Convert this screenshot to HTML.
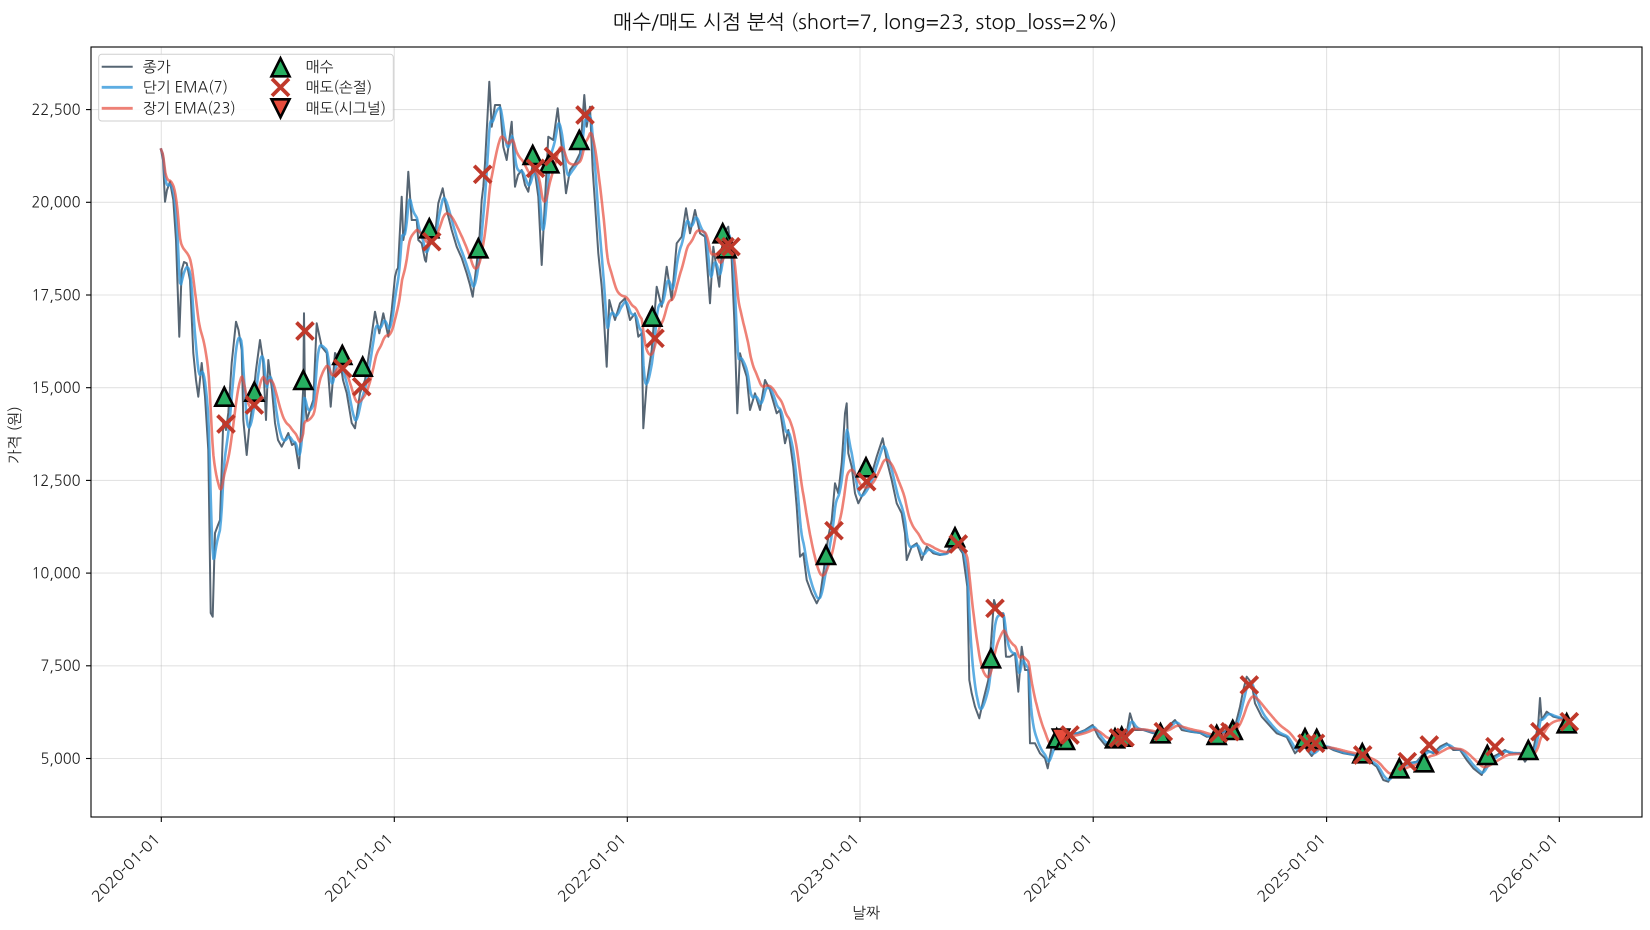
<!DOCTYPE html>
<html><head><meta charset="utf-8">
<style>
html,body{margin:0;padding:0;background:#fff;}
svg{display:block;font-family:"NanumGothic","Noto Sans CJK KR","Liberation Sans",sans-serif;}
</style></head>
<body>
<svg id="chart" width="1650" height="930" viewBox="0 0 1650 930" xmlns="http://www.w3.org/2000/svg">
<defs>
<clipPath id="pa"><rect x="91" y="47" width="1551" height="770"/></clipPath>
<path id="tri" d="M0,-9 L9,9 L-9,9 Z" fill="#27ae60" stroke="#000" stroke-width="2.6" stroke-linejoin="miter"/>
<path id="xm" d="M-8.5,-8.5 L8.5,8.5 M-8.5,8.5 L8.5,-8.5" stroke="#c0392b" stroke-width="3.8" fill="none"/>
</defs>
<rect width="1650" height="930" fill="#fff"/>
<text x="865" y="29" text-anchor="middle" font-size="20" fill="#111" textLength="504" lengthAdjust="spacingAndGlyphs">매수/매도 시점 분석 (short=7, long=23, stop_loss=2%)</text>

<g stroke="#b0b0b0" stroke-opacity="0.35" stroke-width="1.1">
<line x1="91" x2="1642" y1="109.6" y2="109.6"/>
<line x1="91" x2="1642" y1="202.3" y2="202.3"/>
<line x1="91" x2="1642" y1="295" y2="295"/>
<line x1="91" x2="1642" y1="387.7" y2="387.7"/>
<line x1="91" x2="1642" y1="480.4" y2="480.4"/>
<line x1="91" x2="1642" y1="573.1" y2="573.1"/>
<line x1="91" x2="1642" y1="665.8" y2="665.8"/>
<line x1="91" x2="1642" y1="758.5" y2="758.5"/>
<line y1="47" y2="817" x1="161.3" x2="161.3"/>
<line y1="47" y2="817" x1="394.3" x2="394.3"/>
<line y1="47" y2="817" x1="627.3" x2="627.3"/>
<line y1="47" y2="817" x1="860" x2="860"/>
<line y1="47" y2="817" x1="1093.2" x2="1093.2"/>
<line y1="47" y2="817" x1="1326.6" x2="1326.6"/>
<line y1="47" y2="817" x1="1559.3" x2="1559.3"/>
</g>

<g clip-path="url(#pa)" fill="none" stroke-linejoin="round">
<polyline id="close" stroke="#2c3e50" stroke-opacity="0.8" stroke-width="2" points="160.7,148.3 163,160 165,201.7 167,190 170,181.7 173.3,200 176,240 179.3,336.7 181.7,270 184,262 186.7,263.3 190,280 193.3,353 196,380 198.3,396.7 201.7,363 205,396.7 208.3,450 210.7,613 212.7,616.7 215,533 218,525 220,520 223.3,420 226,430 228.3,413 231.7,363 236,321.7 238.5,330 241.7,350 243.3,420 246.7,455 249,430 251.7,410 256,370 260,340 263,360 266,420 268.3,360 272,390 275,423 278,440 281.7,446.7 285,440 288.3,433 292,445 295,443 299,468.3 301,430 303.3,386.7 304,313.3 305,400 306.7,420 310,410 313.3,400 316.7,323.3 321.7,346.7 326.7,353 330.7,406.7 335,353 340,360 343,380 346.7,393 351.7,423 355,428.3 360,393 365,380 370,346.7 375,311.7 379.3,333.3 383.3,313.3 388.3,336.7 391.7,310 395,276.7 396.7,270 398,268 401.7,196.7 403.3,240 405,230 408.3,171.7 411.7,220 416.7,220 418.3,240 421.7,243.3 425,260 426,261.7 430,226.7 435,236 438.3,203.3 442.7,188.3 446.7,210 451.7,230 456.7,246.7 461.7,258 466.7,273.3 470,285 472.7,296.7 476.7,263.3 479.3,240 481.7,200 483.3,186.7 485,163.3 487.3,120 489.3,81.7 491.7,126.7 495,105 500,105 503.3,146.7 506.7,160 511.7,121.7 515,186.7 518,175 521.7,170 525,185 528.3,191.7 533.3,160 538.3,196.7 541.7,265 545,200 548.3,136.7 553.3,140 557.7,108.3 561.7,146.7 566,193.3 570,170 575,163.3 580,153.3 584.3,95 586.7,126.7 590,106.7 592.7,170 595,203.3 598.3,253.3 601.7,286.7 604,320 606.7,366.7 609.3,300 612,310 615,320 620,303.3 625,298.3 630,320 635,313.3 638.3,336.7 641.7,333.3 643.3,428.3 646.7,383.3 651.7,350 656.7,286.7 661.7,306.7 666.7,266.7 671.7,300 676.7,243.3 681.7,236.7 686,208.3 690,233.3 695,210 700,233.3 705,236.7 710,303.3 713.3,246.7 719.3,286.7 723.3,233.3 728.3,226.7 731.7,260 734.3,320 737.3,413.3 740,353.3 743,365 746.7,376.7 750,410 755,393.3 760,410 765,380 770,390 776.7,413.3 780,410 785,443.3 788.3,430 793.3,466.7 796.7,506.7 800,556.7 803.3,553.3 806.7,580 811.7,593.3 816.7,603.3 820,596.7 823.3,573.3 828.3,536.7 831.7,520 835,483.3 838.3,493.3 841.7,463.3 845,413.3 846.7,403.3 848.3,453.3 851.7,466.7 855,493.3 858.3,503.3 863.3,493.3 870,480 876.7,456.7 882.7,438.3 886.7,460 891.7,480 896.7,503.3 901.7,513.3 905,533.3 906.7,560 911.7,546.7 916.7,543.3 921.7,560 926.7,546.7 933.3,553.3 940,555 946.7,553.3 953.3,540 958.3,546.7 962.7,553.3 965,570 967.3,586.7 969.3,680 971.7,693.3 975,706.7 979.3,718.3 983.3,700 988.3,680 991.7,633.3 994,600 998.3,613.3 1003.3,613.3 1006,656.7 1010,656.7 1015,653.3 1018.3,691.7 1021.7,646.7 1025,670 1028.3,670 1030,743.3 1035,743.3 1040,753.3 1045,758.3 1047.7,768.3 1051.7,746.7 1056.7,738 1066.7,733.3 1076.7,733.3 1085,730 1092.7,725 1098.3,736.7 1105,745 1116.7,736.7 1126.7,733.3 1130,713.3 1135,730 1143.3,730 1153.3,733.3 1163.3,731 1175,720 1181.7,730 1190,731.7 1200,733 1206.7,736.7 1216.7,736 1226.7,730 1235,726.7 1240,706.7 1243.3,690 1246.7,676.7 1251.7,683.3 1255,703.3 1261.7,716.7 1270,726 1276.7,733.3 1286.7,737 1295,753.3 1303.3,745 1311.7,756 1320,745 1326.7,746.7 1333.3,750 1343.3,753.3 1353.3,755 1363.3,758.3 1370,761.7 1376.7,766.7 1383.3,780 1388.3,781.7 1393.3,770 1400,766.7 1406.7,763.3 1416.7,761.7 1426.7,750 1433.3,753.3 1440,746.7 1446.7,743.3 1453.3,750 1460,750 1466.7,760 1473.3,768.3 1481.7,775 1486.7,763.3 1493.3,756.7 1500,753.3 1505,750 1510,753.3 1520,753.3 1525,761.7 1533.3,750 1538.3,723.3 1540,698 1541.7,720 1546.7,711.7 1553.3,716.7 1560,718.3 1566.7,720 1573.3,718.3"/>
<path id="emaS" stroke="#3498db" stroke-opacity="0.8" stroke-width="2.6" d=""/>
<path id="emaL" stroke="#e74c3c" stroke-opacity="0.7" stroke-width="2.6" d=""/>
</g>

<g id="markers">
<use href="#tri" x="224.3" y="396.7"/>
<use href="#tri" x="254.3" y="391.7"/>
<use href="#tri" x="303.3" y="380"/>
<use href="#tri" x="342.3" y="355"/>
<use href="#tri" x="362.7" y="366.7"/>
<use href="#tri" x="429.3" y="228.3"/>
<use href="#tri" x="478.3" y="248.3"/>
<use href="#tri" x="532.7" y="155"/>
<use href="#tri" x="549.3" y="163.3"/>
<use href="#tri" x="579.3" y="140"/>
<use href="#tri" x="652.3" y="316.7"/>
<use href="#tri" x="722.7" y="233.3"/>
<use href="#tri" x="726.7" y="248.3"/>
<use href="#tri" x="826" y="555"/>
<use href="#tri" x="866" y="467.3"/>
<use href="#tri" x="955" y="537.3"/>
<use href="#tri" x="991" y="658.3"/>
<use href="#tri" x="1056.7" y="738.3"/>
<use href="#tri" x="1065" y="740"/>
<use href="#tri" x="1115" y="738.3"/>
<use href="#tri" x="1121.7" y="736.7"/>
<use href="#tri" x="1160.5" y="733.3"/>
<use href="#tri" x="1216.7" y="735"/>
<use href="#tri" x="1232.7" y="730"/>
<use href="#tri" x="1305" y="738.3"/>
<use href="#tri" x="1316.7" y="739"/>
<use href="#tri" x="1362.3" y="753.3"/>
<use href="#tri" x="1399.3" y="768.3"/>
<use href="#tri" x="1424" y="762.3"/>
<use href="#tri" x="1487.3" y="755"/>
<use href="#tri" x="1528.3" y="750"/>
<use href="#tri" x="1566.7" y="723.3"/>
<path d="M1052,729 L1070,729 L1061,746 Z" fill="#e74c3c" stroke="#000" stroke-width="1.5"/>
<use href="#xm" x="226" y="424"/>
<use href="#xm" x="254.3" y="405"/>
<use href="#xm" x="305" y="331"/>
<use href="#xm" x="342.7" y="368.3"/>
<use href="#xm" x="361.7" y="386.7"/>
<use href="#xm" x="431.7" y="241.7"/>
<use href="#xm" x="482.7" y="174.3"/>
<use href="#xm" x="535.5" y="168.3"/>
<use href="#xm" x="553.5" y="156.5"/>
<use href="#xm" x="585" y="115"/>
<use href="#xm" x="655" y="338.3"/>
<use href="#xm" x="725" y="246.7"/>
<use href="#xm" x="731" y="246.7"/>
<use href="#xm" x="834" y="530.7"/>
<use href="#xm" x="866.7" y="481.7"/>
<use href="#xm" x="958.3" y="544"/>
<use href="#xm" x="995" y="608.3"/>
<use href="#xm" x="1070" y="735"/>
<use href="#xm" x="1118.3" y="738"/>
<use href="#xm" x="1125" y="737.5"/>
<use href="#xm" x="1163.3" y="731.7"/>
<use href="#xm" x="1218.3" y="733.3"/>
<use href="#xm" x="1230" y="731.7"/>
<use href="#xm" x="1249.3" y="685"/>
<use href="#xm" x="1307" y="743.3"/>
<use href="#xm" x="1315.5" y="743.3"/>
<use href="#xm" x="1362.7" y="755"/>
<use href="#xm" x="1407.3" y="761.7"/>
<use href="#xm" x="1429.3" y="745"/>
<use href="#xm" x="1495" y="746.7"/>
<use href="#xm" x="1540" y="731.7"/>
<use href="#xm" x="1569.3" y="721.7"/>
</g>

<rect x="91" y="47" width="1551" height="770" fill="none" stroke="#000" stroke-width="1.1"/>

<g stroke="#000" stroke-width="1.1">
<line x1="86" x2="91" y1="109.6" y2="109.6"/>
<line x1="86" x2="91" y1="202.3" y2="202.3"/>
<line x1="86" x2="91" y1="295" y2="295"/>
<line x1="86" x2="91" y1="387.7" y2="387.7"/>
<line x1="86" x2="91" y1="480.4" y2="480.4"/>
<line x1="86" x2="91" y1="573.1" y2="573.1"/>
<line x1="86" x2="91" y1="665.8" y2="665.8"/>
<line x1="86" x2="91" y1="758.5" y2="758.5"/>
<line y1="817" y2="822" x1="161.3" x2="161.3"/>
<line y1="817" y2="822" x1="394.3" x2="394.3"/>
<line y1="817" y2="822" x1="627.3" x2="627.3"/>
<line y1="817" y2="822" x1="860" x2="860"/>
<line y1="817" y2="822" x1="1093.2" x2="1093.2"/>
<line y1="817" y2="822" x1="1326.6" x2="1326.6"/>
<line y1="817" y2="822" x1="1559.3" x2="1559.3"/>
</g>

<g font-size="15" fill="#222" text-anchor="end">
<text x="80.5" y="115" textLength="49" lengthAdjust="spacingAndGlyphs">22,500</text>
<text x="80.5" y="207.7" textLength="49" lengthAdjust="spacingAndGlyphs">20,000</text>
<text x="80.5" y="300.4" textLength="49" lengthAdjust="spacingAndGlyphs">17,500</text>
<text x="80.5" y="393.1" textLength="49" lengthAdjust="spacingAndGlyphs">15,000</text>
<text x="80.5" y="485.8" textLength="49" lengthAdjust="spacingAndGlyphs">12,500</text>
<text x="80.5" y="578.5" textLength="49" lengthAdjust="spacingAndGlyphs">10,000</text>
<text x="80.5" y="671.2" textLength="40" lengthAdjust="spacingAndGlyphs">7,500</text>
<text x="80.5" y="763.9" textLength="40" lengthAdjust="spacingAndGlyphs">5,000</text>
</g>
<g font-size="15" fill="#222" text-anchor="end">
<text transform="translate(161,840) rotate(-45)" textLength="89" lengthAdjust="spacingAndGlyphs">2020-01-01</text>
<text transform="translate(394,840) rotate(-45)" textLength="89" lengthAdjust="spacingAndGlyphs">2021-01-01</text>
<text transform="translate(627,840) rotate(-45)" textLength="89" lengthAdjust="spacingAndGlyphs">2022-01-01</text>
<text transform="translate(860,840) rotate(-45)" textLength="89" lengthAdjust="spacingAndGlyphs">2023-01-01</text>
<text transform="translate(1093,840) rotate(-45)" textLength="89" lengthAdjust="spacingAndGlyphs">2024-01-01</text>
<text transform="translate(1326.5,840) rotate(-45)" textLength="89" lengthAdjust="spacingAndGlyphs">2025-01-01</text>
<text transform="translate(1559,840) rotate(-45)" textLength="89" lengthAdjust="spacingAndGlyphs">2026-01-01</text>
</g>
<text x="866" y="918" font-size="15" text-anchor="middle" fill="#222">날짜</text>
<text transform="translate(20,435) rotate(-90)" font-size="15" text-anchor="middle" fill="#222">가격 (원)</text>

<g>
<rect x="98.7" y="54.3" width="294.6" height="66.7" rx="3" fill="#fff" fill-opacity="0.85" stroke="#cfcfcf" stroke-width="1"/>
<line x1="101.7" x2="132.7" y1="66.7" y2="66.7" stroke="#2c3e50" stroke-opacity="0.8" stroke-width="2"/>
<line x1="101.7" x2="132.7" y1="87.3" y2="87.3" stroke="#3498db" stroke-opacity="0.8" stroke-width="2.8"/>
<line x1="101.7" x2="132.7" y1="108.3" y2="108.3" stroke="#e74c3c" stroke-opacity="0.7" stroke-width="2.8"/>
<g font-size="14.8" fill="#222">
<text x="142.7" y="72">종가</text>
<text x="142.7" y="92.6">단기 EMA(7)</text>
<text x="142.7" y="113.6" textLength="93" lengthAdjust="spacingAndGlyphs">장기 EMA(23)</text>
<text x="305.7" y="72">매수</text>
<text x="305.7" y="92.6">매도(손절)</text>
<text x="305.7" y="113.6">매도(시그널)</text>
</g>
<use href="#tri" x="280.5" y="67.3"/>
<use href="#xm" x="280.5" y="87.3"/>
<path d="M271.5,99.3 L289.5,99.3 L280.5,117.3 Z" fill="#e74c3c" stroke="#000" stroke-width="2.6"/>
</g>
</svg>
<script>
(function(){
  var s=document.getElementById('close').getAttribute('points').trim().split(/\s+/).map(function(p){var a=p.split(',');return [parseFloat(a[0]),parseFloat(a[1])];});
  var step=0.925, xs=[], ys=[], j=0;
  for(var x=s[0][0]; x<=s[s.length-1][0]; x+=step){
    while(j<s.length-2 && s[j+1][0]<x) j++;
    var a=s[j], b=s[j+1], t=(b[0]-a[0])?(x-a[0])/(b[0]-a[0]):0;
    if(t<0)t=0; if(t>1)t=1;
    xs.push(x); ys.push(a[1]+(b[1]-a[1])*t);
  }
  function ema(span){
    var al=2/(span+1), num=0, den=0, out=[];
    for(var i=0;i<ys.length;i++){ num=ys[i]+(1-al)*num; den=1+(1-al)*den; out.push(num/den); }
    return out;
  }
  function path(v){
    var d='';
    for(var i=0;i<v.length;i++){ d+=(i?'L':'M')+xs[i].toFixed(1)+','+v[i].toFixed(1); }
    return d;
  }
  document.getElementById('emaS').setAttribute('d',path(ema(7)));
  document.getElementById('emaL').setAttribute('d',path(ema(23)));
})();
</script>
</body></html>
